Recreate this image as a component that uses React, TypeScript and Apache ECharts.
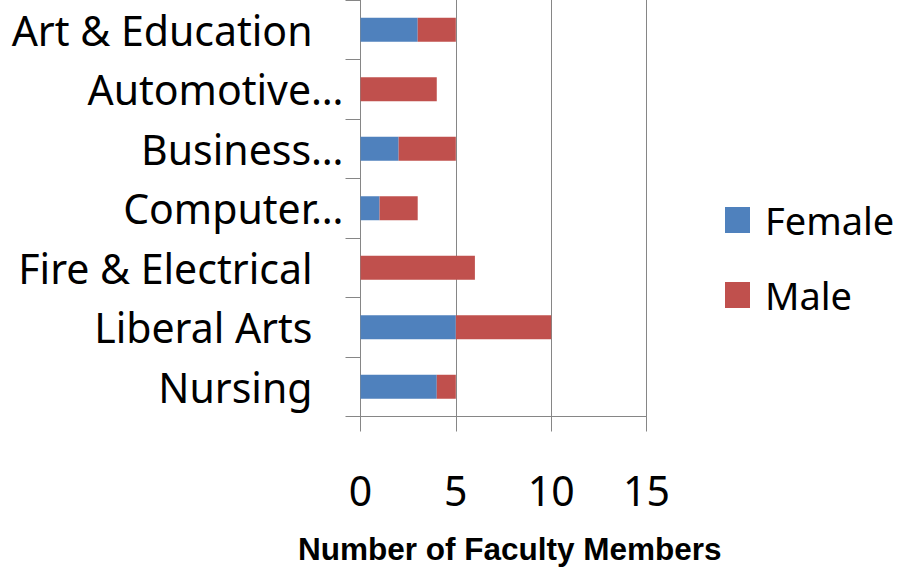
import React, { useEffect, useRef } from "react";
import * as echarts from "echarts";

const categories = [
  "Art & Education",
  "Automotive…",
  "Business…",
  "Computer…",
  "Fire & Electrical",
  "Liberal Arts",
  "Nursing",
];
const femaleValues = [3, 0, 2, 1, 0, 5, 4];
const maleValues = [2, 4, 3, 2, 6, 5, 1];
const xTicks = { min: 0, max: 15, interval: 5 };
const axisTitle = "Number of Faculty Members";

const FONT = "'Noto Sans', 'Open Sans', sans-serif";
const GRID_COLOR = "#868686";

export default function App() {
  const ref = useRef<HTMLDivElement>(null);

  useEffect(() => {
    if (!ref.current) return;
    const chart = echarts.init(ref.current, null, { renderer: "svg" });
    chart.setOption({
      animation: false,
      backgroundColor: "#ffffff",
      grid: { left: 360.5, right: 254.5, top: 0, bottom: 150.5, containLabel: false },
      legend: {
        orient: "vertical",
        left: 720,
        top: 195,
        icon: "rect",
        itemWidth: 25,
        itemHeight: 26,
        itemGap: 35,
        data: ["Female", "Male"],
        textStyle: {
          fontFamily: FONT,
          fontSize: 38,
          color: "#000000",
          lineHeight: 40,
          padding: [0, 0, 0, 10],
        },
      },
      xAxis: {
        type: "value",
        min: xTicks.min,
        max: xTicks.max,
        interval: xTicks.interval,
        axisLine: { show: true, lineStyle: { color: GRID_COLOR, width: 1 } },
        axisTick: { show: true, length: 15, lineStyle: { color: GRID_COLOR, width: 1 } },
        splitLine: { show: true, lineStyle: { color: GRID_COLOR, width: 1 } },
        axisLabel: {
          margin: 53,
          fontFamily: FONT,
          fontSize: 41,
          color: "#000000",
        },
      },
      yAxis: {
        type: "category",
        data: categories,
        inverse: true,
        axisLine: { show: true, lineStyle: { color: GRID_COLOR, width: 1 } },
        axisTick: { show: true, length: 15, lineStyle: { color: GRID_COLOR, width: 1 } },
        splitLine: { show: false },
        axisLabel: {
          margin: 17,
          color: "#000000",
          fontFamily: FONT,
          fontSize: 41,
          formatter: (v: string) => (v.endsWith("…") ? `{t|${v}}` : `{f|${v}}`),
          rich: {
            t: { fontFamily: FONT, fontSize: 41, color: "#000000" },
            f: { fontFamily: FONT, fontSize: 41, color: "#000000", padding: [0, 31, 0, 0] },
          },
        },
      },
      series: [
        {
          name: "Female",
          type: "bar",
          stack: "total",
          barWidth: 24,
          itemStyle: { color: "#4F81BD" },
          data: femaleValues,
        },
        {
          name: "Male",
          type: "bar",
          stack: "total",
          barWidth: 24,
          itemStyle: { color: "#C0504D" },
          data: maleValues,
        },
      ],
      graphic: [
        {
          type: "text",
          left: 298,
          top: 533,
          style: {
            text: axisTitle,
            fontFamily: "'Liberation Sans', Arial, sans-serif",
            fontWeight: "bold",
            fontSize: 31.5,
            fill: "#000000",
          },
        },
      ],
    });
    return () => chart.dispose();
  }, []);

  return (
    <div
      ref={ref}
      style={{ position: "fixed", left: 0, top: 0, width: 901, height: 567, background: "#fff" }}
    />
  );
}
